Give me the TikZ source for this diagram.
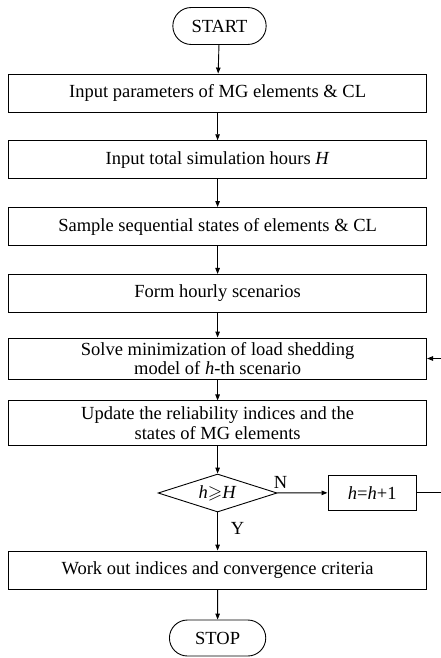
\documentclass[tikz,border=0pt]{standalone}
\usepackage{amsmath}
\usepackage{amssymb}
\usepackage{fontspec}
\setmainfont{Liberation Serif}
\usetikzlibrary{arrows.meta,shapes.geometric,shapes.misc}
\tikzset{>/.tip={Triangle[length=6pt,width=4.5pt]},
  flowtext/.style={font=\fontsize{18.5}{19.5}\selectfont},
  termbox/.style={flowtext, draw, rounded rectangle, minimum width=100pt, minimum height=37pt, line width=0.9pt},
  procbox/.style={flowtext, draw, rectangle, minimum width=418pt, minimum height=38pt, align=center, line width=0.9pt},
  testbox/.style={flowtext, draw, diamond, aspect=3.15, inner sep=0pt, minimum width=119pt, minimum height=38pt, line width=0.9pt},
  flowline/.style={->, line width=0.9pt}}
\newcommand{\hh}{\textit{h}}

\begin{document}
\begin{tikzpicture}[x=1pt,y=-1pt]
\useasboundingbox (0,0) rectangle (440,658);
\node[termbox] (start) at (219.5,26) {START};
\node[procbox] (inpar) at (217.6,93) {Input parameters of MG elements \& CL};
\node[procbox] (inhrs) at (217.6,159.7) {Input total simulation hours \textit{H}};
\node[procbox] (sample) at (217.6,226.5) {Sample sequential states of elements \& CL};
\node[procbox] (scen) at (217.6,293.4) {Form hourly scenarios};
\node[procbox, minimum height=41pt] (solve) at (217.6,358.5) {Solve minimization of load shedding\\model of \hh-th scenario};
\node[procbox, minimum height=45pt] (update) at (217.6,423.4) {Update the reliability indices and the\\states of MG elements};
\node[testbox] (test) at (217.6,493) {\hh$\geqslant$\textit{H}};
\node[flowtext, draw, minimum width=88.7pt, minimum height=35.7pt, line width=0.9pt] (incr) at (372.3,492.8) {\hh=\hh+1};
\node[procbox] (workout) at (217.6,570) {Work out indices and convergence criteria};
\node[termbox, minimum width=103pt, minimum height=36pt] (stop) at (217.6,638) {STOP};
\node[flowtext] (nlab) at (280.5,482) {N};
\node[flowtext] (ylab) at (237.5,528) {Y};
\coordinate (loopb) at (441.5,492.8);
\coordinate (loopt) at (441.5,358.5);

\draw[flowline] (start) to (inpar);
\draw[flowline] (inpar) to (inhrs);
\draw[flowline] (inhrs) to (sample);
\draw[flowline] (sample) to (scen);
\draw[flowline] (scen) to (solve);
\draw[flowline] (solve) to (update);
\draw[flowline] (update) to (test);
\draw[flowline] (test) to (incr);
\draw[flowline] (incr.east) -- (loopb) -- (loopt) -- (solve.east);
\draw[flowline] (test) to (workout);
\draw[flowline] (workout) to (stop);
\end{tikzpicture}
\end{document}
